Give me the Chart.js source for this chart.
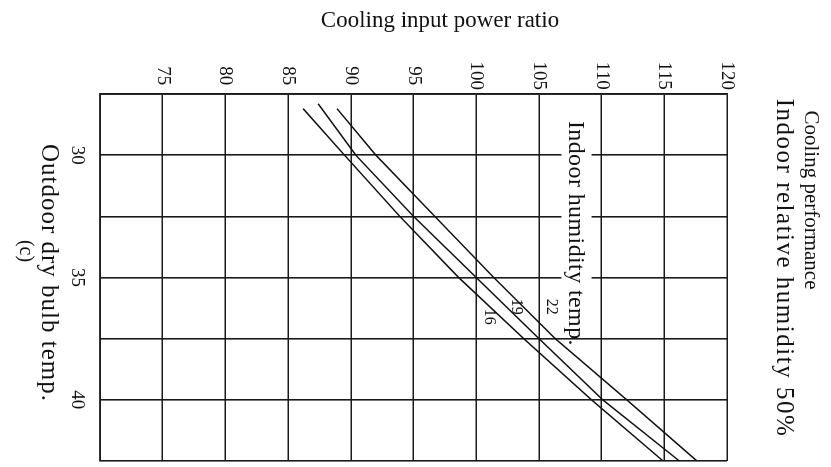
<!DOCTYPE html>
<html>
<head>
<meta charset="utf-8">
<script src="https://cdn.jsdelivr.net/npm/chart.js@4.4.0/dist/chart.umd.min.js"></script>
<style>
    html, body { margin: 0; padding: 0; background: #fff; width: 831px; height: 467px; overflow: hidden; }
    /* el grafico se dibuja "de pie" y se gira 90 grados como en la figura original */
    #wrap { position: absolute; left: 0; top: 0; width: 467px; height: 831px;
            transform-origin: 0 0; transform: translateX(831px) rotate(90deg); }
</style>
</head>
<body>
<div id="wrap"><canvas id="chart" width="467" height="831"></canvas></div>
<script>
// Datos
const tempGrid = [27.5, 30, 32.5, 35, 37.5, 40, 42.5];
const tempLabels = [30, 35, 40];
const ratioGrid = [70, 75, 80, 85, 90, 95, 100, 105, 110, 115, 120];
const ratioLabels = [75, 80, 85, 90, 95, 100, 105, 110, 115, 120];

const seriesNames = ['16', '19', '22'];
const temp16 = [28.1, 30, 32.5, 35, 37.5, 40, 42.5];
const ratio16 = [86.2, 89.5, 93.9, 98.6, 103.8, 109.2, 114.9];
const temp19 = [27.9, 30, 32.5, 35, 37.5, 40, 42.5];
const ratio19 = [87.4, 90.4, 95.0, 100.0, 105.0, 110.1, 116.2];
const temp22 = [28.1, 30, 32.5, 35, 37.5, 40, 42.5];
const ratio22 = [88.9, 92.0, 96.7, 101.4, 106.3, 112.0, 117.6];

const SERIF = "'Liberation Serif', 'Times New Roman', serif";
Chart.defaults.font.family = SERIF;
Chart.defaults.color = '#111';

function toPoints(xs, ys) {
    return xs.map((t, i) => ({ x: t, y: ys[i] }));
}

function lineSet(name, xs, ys) {
    return {
        label: name,
        data: toPoints(xs, ys),
        showLine: true,
        borderColor: '#111',
        borderWidth: 1.5,
        pointRadius: 0,
        tension: 0,
        fill: false
    };
}

function writeText(ctx, text, x, y, size, spacing) {
    ctx.font = size + 'px ' + SERIF;
    ctx.letterSpacing = (spacing || 0) + 'px';
    ctx.fillText(text, x, y);
    ctx.letterSpacing = '0px';
}

// Textos de la figura (titulos y anotaciones)
const textPlugin = {
    id: 'figureTexts',
    beforeDatasetsDraw(chart) {
        const { ctx, scales: { x, y } } = chart;
        ctx.save();
        // caja blanca detras de "Indoor humidity temp."
        const x0 = x.getPixelForValue(27.5) + 1.5;
        const x1 = x.getPixelForValue(37.45);
        const y0 = y.getPixelForValue(109.2);
        const y1 = y.getPixelForValue(106.8);
        ctx.fillStyle = '#fff';
        ctx.fillRect(x0, y0, x1 - x0, y1 - y0);
        ctx.fillStyle = '#111';
        ctx.textAlign = 'left';
        ctx.textBaseline = 'middle';
        writeText(ctx, 'Indoor humidity temp.', x.getPixelForValue(28.6), y.getPixelForValue(107.9), 24, 0.4);
        ctx.restore();
    },
    afterDatasetsDraw(chart) {
        const { ctx, scales: { x, y } } = chart;
        ctx.save();
        ctx.fillStyle = '#111';
        ctx.textAlign = 'center';
        ctx.textBaseline = 'middle';
        writeText(ctx, seriesNames[2], x.getPixelForValue(36.2), y.getPixelForValue(106.0), 16);
        writeText(ctx, seriesNames[1], x.getPixelForValue(36.2), y.getPixelForValue(103.2), 16);
        writeText(ctx, seriesNames[0], x.getPixelForValue(36.6), y.getPixelForValue(101.0), 16);
        ctx.restore();
    },
    afterDraw(chart) {
        const ctx = chart.ctx;
        ctx.save();
        ctx.fillStyle = '#111';
        ctx.textAlign = 'center';
        ctx.textBaseline = 'middle';
        writeText(ctx, 'Cooling performance', 200, 20, 21);
        writeText(ctx, 'Indoor relative humidity 50%', 268, 47, 25, 1.5);
        writeText(ctx, 'Outdoor dry bulb temp.', 273, 782, 25, 1);
        writeText(ctx, '(c)', 251, 806, 20);
        // titulo del eje de razon de potencia
        ctx.translate(21, 391);
        ctx.rotate(-Math.PI / 2);
        writeText(ctx, 'Cooling input power ratio', 0, 0, 23);
        ctx.restore();
    }
};

new Chart(document.getElementById('chart').getContext('2d'), {
    type: 'scatter',
    data: {
        datasets: [
            lineSet(seriesNames[0], temp16, ratio16),
            lineSet(seriesNames[1], temp19, ratio19),
            lineSet(seriesNames[2], temp22, ratio22)
        ]
    },
    options: {
        responsive: false,
        animation: false,
        layout: { padding: { top: 104, right: 6, left: 0, bottom: 0 } },
        plugins: {
            legend: { display: false },
            tooltip: { enabled: false }
        },
        scales: {
            x: {
                type: 'linear',
                position: 'bottom',
                min: tempGrid[0],
                max: tempGrid[tempGrid.length - 1],
                afterBuildTicks: s => { s.ticks = tempGrid.map(v => ({ value: v })); },
                afterFit: s => {
                    s.height = 100;
                    s.paddingLeft = 0;
                    s.paddingRight = 0;
                },
                grid: { color: '#1a1a1a', lineWidth: 1.6, drawTicks: false },
                border: { color: '#1a1a1a', width: 1.8 },
                ticks: {
                    padding: 12,
                    maxRotation: 0,
                    autoSkip: false,
                    font: { size: 19 },
                    callback: v => tempLabels.includes(v) ? String(v) : ''
                }
            },
            y: {
                type: 'linear',
                position: 'left',
                min: ratioGrid[0],
                max: ratioGrid[ratioGrid.length - 1],
                afterBuildTicks: s => { s.ticks = ratioGrid.map(v => ({ value: v })); },
                afterFit: s => {
                    s.width = 94;
                    s.paddingTop = 0;
                    s.paddingBottom = 0;
                },
                grid: { color: '#1a1a1a', lineWidth: 1.6, drawTicks: false },
                border: { color: '#1a1a1a', width: 1.8 },
                ticks: {
                    padding: 4,
                    crossAlign: 'center',
                    autoSkip: false,
                    font: { size: 19 },
                    callback: v => ratioLabels.includes(v) ? String(v) : ''
                }
            }
        }
    },
    plugins: [textPlugin]
});
</script>
</body>
</html>
